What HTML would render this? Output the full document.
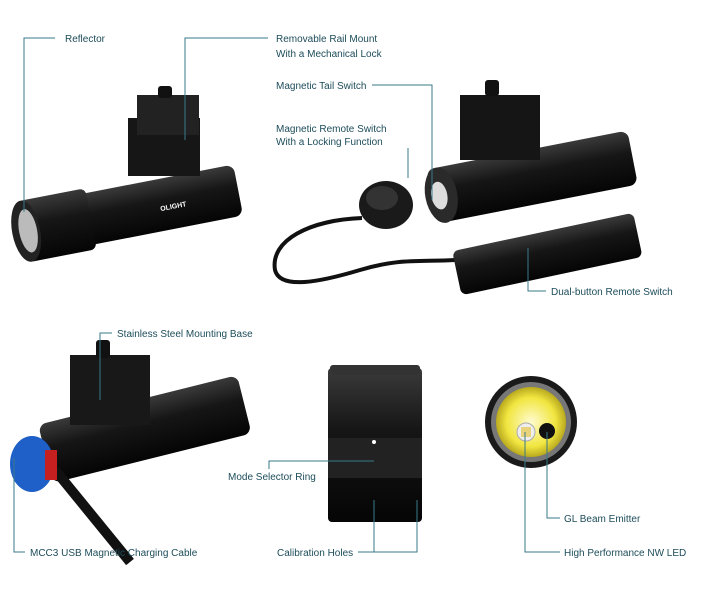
<!DOCTYPE html>
<html><head><meta charset="utf-8"><style>
html,body{margin:0;padding:0;background:#fff;}
svg{display:block;}
text{font-family:"Liberation Sans",sans-serif;font-size:10px;fill:#1d4c5a;}
.l{stroke:#3a7a8a;stroke-width:1;fill:none;}
</style></head><body>
<svg width="703" height="600" viewBox="0 0 703 600">
<defs>
<linearGradient id="b" x1="0" y1="0" x2="0" y2="1"><stop offset="0" stop-color="#3a3a3a"/><stop offset=".4" stop-color="#161616"/><stop offset="1" stop-color="#050505"/></linearGradient>
<radialGradient id="y" cx=".5" cy=".5" r=".5"><stop offset="0" stop-color="#fffbd0"/><stop offset=".7" stop-color="#f1e640"/><stop offset="1" stop-color="#b9a91e"/></radialGradient>
</defs>
<!-- top-left light -->
<g transform="rotate(-11 130 210)">
<rect x="40" y="185" width="200" height="52" rx="8" fill="url(#b)"/>
<rect x="20" y="180" width="70" height="62" rx="6" fill="url(#b)"/>
<ellipse cx="24" cy="211" rx="14" ry="31" fill="#222"/>
<ellipse cx="26" cy="211" rx="9" ry="22" fill="#bbb"/>
<text x="160" y="217" style="fill:#fff;font-size:7px;font-weight:bold">OLIGHT</text>
</g>
<rect x="128" y="118" width="72" height="58" fill="#161616"/>
<rect x="137" y="95" width="62" height="40" fill="#222"/>
<rect x="158" y="86" width="14" height="12" rx="3" fill="#111"/>
<!-- top-right light -->
<g transform="rotate(-11 530 180)">
<rect x="430" y="150" width="205" height="55" rx="8" fill="url(#b)"/>
<ellipse cx="440" cy="178" rx="16" ry="28" fill="#2a2a2a"/>
<ellipse cx="438" cy="178" rx="8" ry="14" fill="#ddd"/>
</g>
<rect x="460" y="95" width="80" height="65" fill="#151515"/>
<rect x="485" y="80" width="14" height="16" rx="3" fill="#111"/>
<ellipse cx="386" cy="205" rx="27" ry="24" fill="#1a1a1a"/>
<ellipse cx="382" cy="198" rx="16" ry="12" fill="#333"/>
<path d="M362 218 C310 220,270 240,275 270 C280 290,320 282,360 270 C400 258,420 262,455 260" stroke="#111" stroke-width="4" fill="none"/>
<g transform="rotate(-12 545 255)">
<rect x="455" y="232" width="185" height="45" rx="6" fill="url(#b)"/>
</g>
<!-- bottom-left light -->
<g transform="rotate(-14 140 420)">
<rect x="40" y="400" width="205" height="60" rx="8" fill="url(#b)"/>
</g>
<rect x="70" y="355" width="80" height="70" fill="#181818"/>
<rect x="96" y="340" width="14" height="18" rx="3" fill="#111"/>
<path d="M55 470 L130 562" stroke="#111" stroke-width="10"/>
<ellipse cx="32" cy="464" rx="22" ry="28" fill="#1f5fc8"/>
<rect x="45" y="450" width="12" height="30" fill="#c62020"/>
<!-- middle vertical -->
<rect x="328" y="368" width="94" height="154" rx="4" fill="url(#b)"/>
<rect x="328" y="438" width="94" height="40" fill="#222"/>
<rect x="330" y="365" width="90" height="10" rx="3" fill="#333"/>
<circle cx="374" cy="442" r="2" fill="#fff"/>
<!-- head-on -->
<circle cx="531" cy="422" r="46" fill="#1a1a1a"/>
<circle cx="531" cy="422" r="40" fill="#777"/>
<circle cx="531" cy="422" r="35" fill="url(#y)"/>
<circle cx="526" cy="432" r="9" fill="#eee" stroke="#aaa"/>
<rect x="521" y="427" width="10" height="10" fill="#e8d27a"/>
<circle cx="547" cy="431" r="8" fill="#111"/>
<!-- leader lines -->
<polyline class="l" points="55,38 24,38 24,212"/>
<polyline class="l" points="268,38 185,38 185,140"/>
<polyline class="l" points="372,85 432,85 432,200"/>
<polyline class="l" points="408,148 408,178"/>
<polyline class="l" points="528,248 528,291 546,291"/>
<polyline class="l" points="112,333 100,333 100,400"/>
<polyline class="l" points="25,552 14,552 14,458"/>
<polyline class="l" points="269,469 269,461 374,461"/>
<polyline class="l" points="358,552 417,552 417,500"/>
<polyline class="l" points="374,552 374,500"/>
<polyline class="l" points="560,518 547,518 547,432"/>
<polyline class="l" points="560,552 525,552 525,432"/>
<!-- labels -->
<text x="65" y="42">Reflector</text>
<text x="276" y="42">Removable Rail Mount</text>
<text x="276" y="57">With a Mechanical Lock</text>
<text x="276" y="89">Magnetic Tail Switch</text>
<text x="276" y="132">Magnetic Remote Switch</text>
<text x="276" y="145">With a Locking Function</text>
<text x="551" y="295">Dual-button Remote Switch</text>
<text x="117" y="337">Stainless Steel Mounting Base</text>
<text x="228" y="480">Mode Selector Ring</text>
<text x="30" y="556">MCC3 USB Magnetic Charging Cable</text>
<text x="277" y="556">Calibration Holes</text>
<text x="564" y="522">GL Beam Emitter</text>
<text x="564" y="556">High Performance NW LED</text>
</svg>
</body></html>
